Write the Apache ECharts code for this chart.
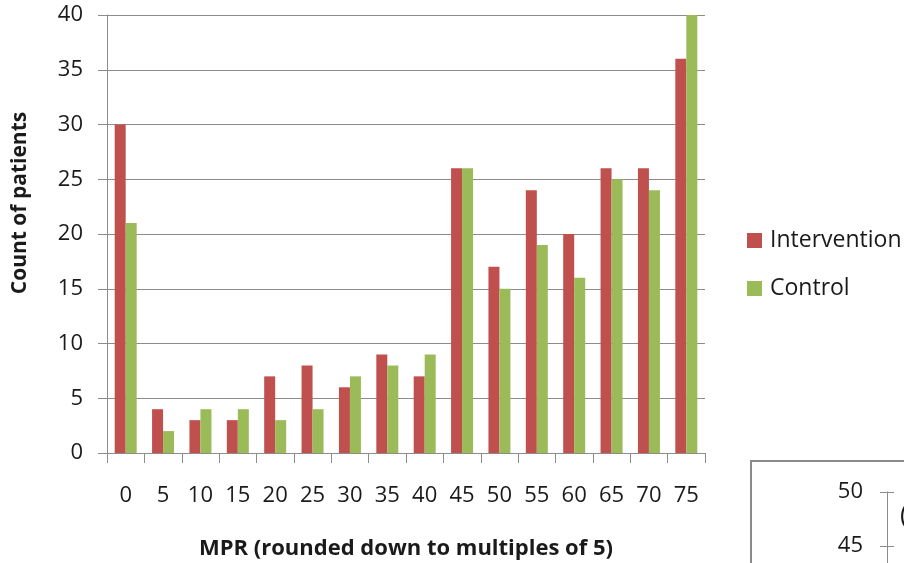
<!DOCTYPE html>
<html>
<head>
<meta charset="utf-8">
<script src="https://cdn.jsdelivr.net/npm/echarts@6/dist/echarts.min.js"></script>
<style>
  html, body { margin: 0; padding: 0; background: #fff; }
  #chart { width: 904px; height: 563px; }
</style>
</head>
<body>
<div id="chart"></div>
<script>
// MPR buckets (rounded down to multiples of 5)
const categories = ['0', '5', '10', '15', '20', '25', '30', '35', '40', '45', '50', '55', '60', '65', '70', '75'];
const intervention = [30, 4, 3, 3, 7, 8, 6, 9, 7, 26, 17, 24, 20, 26, 26, 36];
const control = [21, 2, 4, 4, 3, 4, 7, 8, 9, 26, 15, 19, 16, 25, 24, 40];
// Neighbouring chart's axis, only its top is visible
const nextAxisTicks = [45, 50];

const FONT = 'Open Sans';
const GRID_GRAY = '#8c8c8c';
const TEXT = '#1a1a1a';

const chart = echarts.init(document.getElementById('chart'));
chart.setOption({
  animation: false,
  textStyle: { fontFamily: FONT },
  grid: [
    { left: 107, right: 199, top: 15, bottom: 110, outerBoundsMode: 'none' },
    { left: 887, width: 40, top: 492, bottom: -37, outerBoundsMode: 'none' }
  ],
  legend: {
    orient: 'vertical',
    left: 742,
    top: 224,
    itemWidth: 15,
    itemHeight: 15,
    itemGap: 25,
    icon: 'rect',
    textStyle: { fontFamily: FONT, fontSize: 23, color: TEXT, padding: [0, 0, 0, 3] },
    data: ['Intervention', 'Control']
  },
  xAxis: [
    {
      type: 'category',
      gridIndex: 0,
      data: categories,
      name: 'MPR (rounded down to multiples of 5)',
      nameLocation: 'middle',
      nameGap: 85,
      nameTextStyle: { fontFamily: FONT, fontSize: 22, fontWeight: 'bold', color: TEXT },
      axisLine: { lineStyle: { color: GRID_GRAY, width: 1 } },
      axisTick: { show: true, length: 10, alignWithLabel: false, lineStyle: { color: GRID_GRAY } },
      axisLabel: { margin: 32, fontSize: 22, color: TEXT, interval: 0 },
      splitLine: { show: false }
    },
    {
      type: 'value',
      gridIndex: 1,
      show: false
    }
  ],
  yAxis: [
    {
      type: 'value',
      gridIndex: 0,
      min: 0,
      max: 40,
      interval: 5,
      name: 'Count of patients',
      nameLocation: 'middle',
      nameGap: 76,
      nameTextStyle: { fontFamily: FONT, fontSize: 21, fontWeight: 'bold', color: TEXT, padding: [0, 0, 0, 62] },
      axisLine: { show: true, lineStyle: { color: GRID_GRAY, width: 1 } },
      axisTick: { show: true, length: 9, lineStyle: { color: GRID_GRAY } },
      axisLabel: { margin: 24, fontSize: 22, color: TEXT },
      splitLine: { show: true, lineStyle: { color: GRID_GRAY, width: 1 } }
    },
    {
      type: 'value',
      gridIndex: 1,
      min: 40,
      max: 50,
      interval: 5,
      axisLine: { show: true, lineStyle: { color: GRID_GRAY, width: 1 } },
      axisTick: { show: true, length: 7, lineStyle: { color: GRID_GRAY } },
      axisLabel: {
        margin: 24, fontSize: 22, color: TEXT,
        formatter: v => (nextAxisTicks.includes(v) ? String(v) : '')
      },
      splitLine: { show: false }
    },
    {
      type: 'value',
      gridIndex: 1,
      min: 40,
      max: 50,
      interval: 5,
      position: 'left',
      axisLine: { show: false },
      axisTick: { show: true, inside: true, length: 7, lineStyle: { color: GRID_GRAY } },
      axisLabel: { show: false },
      splitLine: { show: false }
    }
  ],
  series: [
    {
      name: 'Intervention',
      type: 'bar',
      xAxisIndex: 0,
      yAxisIndex: 0,
      data: intervention,
      barWidth: 11,
      barGap: '0%',
      itemStyle: { color: '#C0504D' }
    },
    {
      name: 'Control',
      type: 'bar',
      xAxisIndex: 0,
      yAxisIndex: 0,
      data: control,
      barWidth: 11,
      barGap: '0%',
      itemStyle: { color: '#9BBB59' }
    }
  ],
  graphic: [
    {
      type: 'rect',
      shape: { x: 751, y: 461, width: 300, height: 200 },
      style: { fill: 'none', stroke: '#8a8a8a', lineWidth: 2 },
      silent: true
    },
    {
      type: 'text',
      x: 900,
      y: 503,
      style: { text: '(', fontFamily: FONT, fontSize: 26, fill: TEXT },
      silent: true
    }
  ]
});
</script>
</body>
</html>
